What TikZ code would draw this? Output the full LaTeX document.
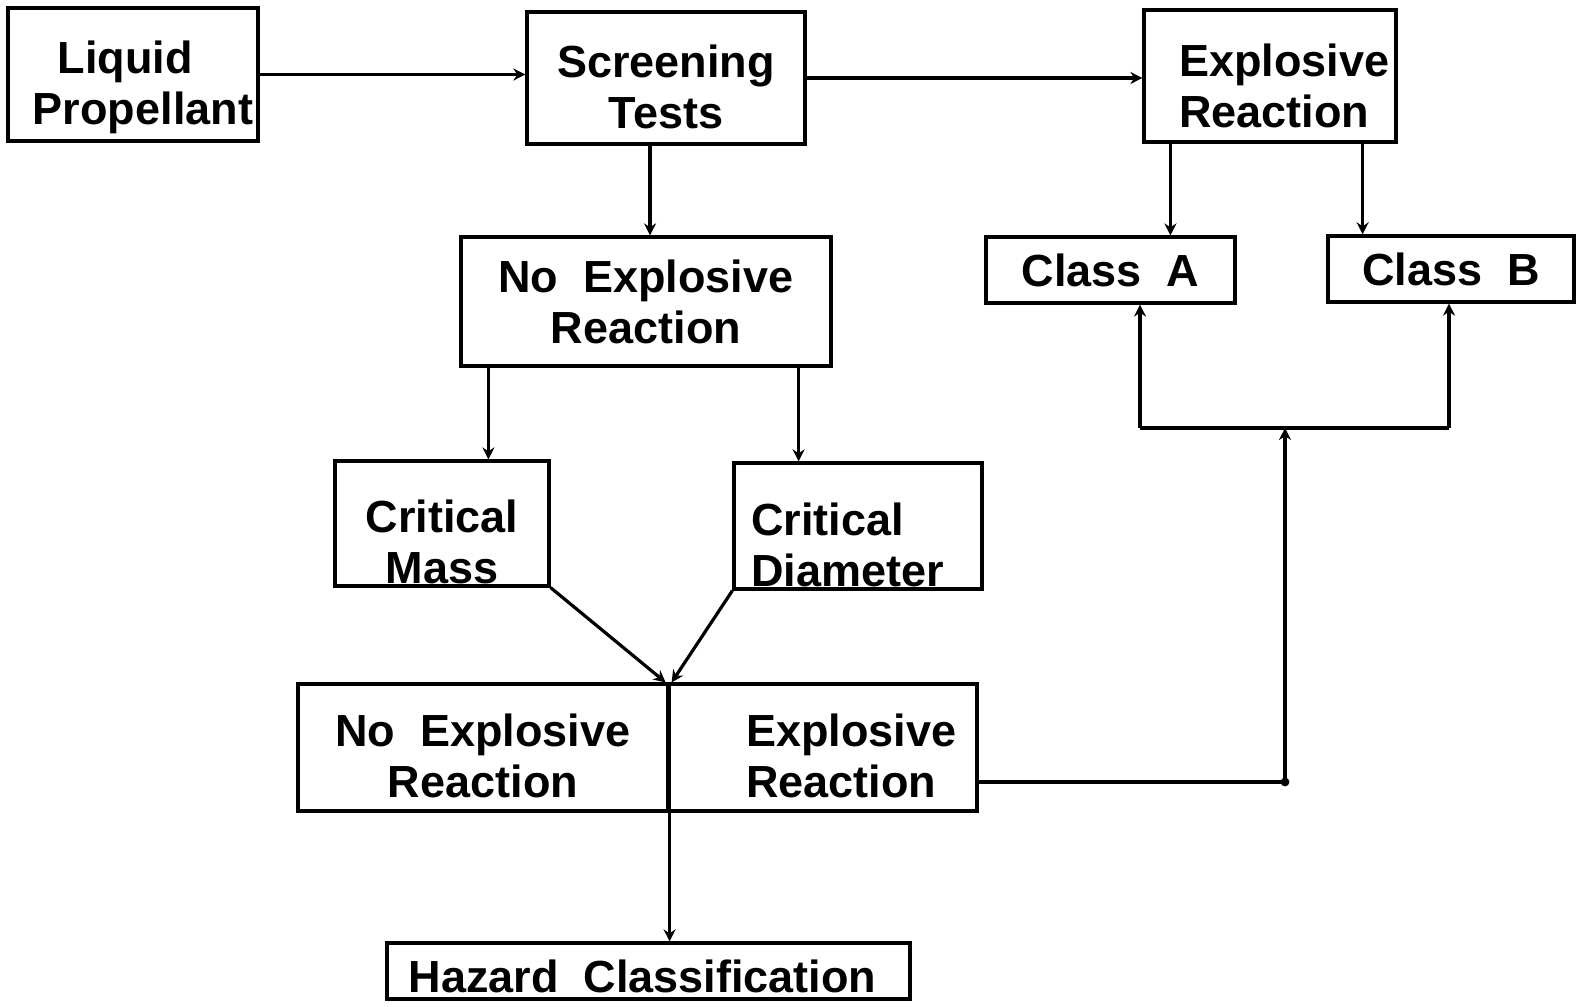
\documentclass[tikz,border=0pt]{standalone}
\usepackage{fontspec}
\setmainfont{Liberation Sans}
\usetikzlibrary{arrows.meta}
% strut that lowers a text block inside its box
\newcommand{\lift}[1]{\rule{0pt}{#1}}
\begin{document}
\begin{tikzpicture}[x=0.5pt,y=-0.5pt,
  box/.style={draw, line width=1.6pt, rectangle, inner xsep=2pt, inner ysep=0pt,
    font=\fontsize{22.5pt}{25.5pt}\selectfont\bfseries},
  link/.style={line width=1.6pt},
  arrow/.style={link, -{Stealth[length=6pt,width=6pt]}}]
\useasboundingbox (0,0) rectangle (1577,1006);

% top row
\node[box, minimum width=125pt, minimum height=66.5pt, align=center] (lp) at (133,74.5)
  {\lift{29.5pt}\hspace*{10pt}Liquid\hspace*{18pt}\\\hspace*{10pt}Propellant};
\node[box, minimum width=139pt, minimum height=66pt, align=center] (st) at (666,78)
  {\lift{25.5pt}Screening\\Tests};
\node[box, minimum width=126pt, minimum height=66pt, text width=91pt, align=left] (er) at (1270,76)
  {\lift{26.5pt}Explosive\\Reaction};

% second row
\node[box, minimum width=185pt, minimum height=64.5pt, align=center] (ne) at (646,301.5)
  {No\ \ Explosive\\Reaction};
\node[box, minimum width=124.5pt, minimum height=33pt] (ca) at (1110.5,270) {Class\ \ A};
\node[box, minimum width=123pt, minimum height=33pt] (cb) at (1451,269) {Class\ \ B};

% critical tests
\node[box, minimum width=107pt, minimum height=62.5pt, align=center] (cm) at (442,523.5)
  {\lift{35pt}Critical\\Mass};
\node[box, minimum width=124pt, minimum height=63pt, text width=107pt, align=left] (cd) at (858,526)
  {\lift{35pt}Critical\\Diameter};

% outcome box, split in two halves
\node[box, minimum width=185pt, minimum height=63.5pt, align=center] (nl) at (483,747.5)
  {\lift{24.5pt}No\ \ Explosive\\Reaction};
\node[box, minimum width=154.5pt, minimum height=63.5pt, text width=76.5pt, align=left] (nr) at (822.5,747.5)
  {\lift{24.5pt}Explosive\\Reaction};

% final result
\node[box, minimum width=261.5pt, minimum height=28pt] (hz) at (648.5,971)
  {\lift{21.5pt}Hazard\ \ Classification\hspace*{6pt}};

% attachment points of the connectors
\coordinate (s1) at ([xshift=-8pt]st.south);
\coordinate (n1) at ([xshift=14.5pt]ne.south west);
\coordinate (n2) at ([xshift=-17pt]ne.south east);
\coordinate (e1) at ([xshift=14pt]er.south west);
\coordinate (e2) at ([xshift=-17.5pt]er.south east);
\coordinate (ba) at (1140,428);
\coordinate (bb) at (1449,428);
\coordinate (j1) at (1285,782);

% connectors
\draw[arrow] (lp.east) -- (lp.east -| st.west);
\draw[arrow] (st.east) -- (st.east -| er.west);
\draw[arrow] (s1) -- (s1 |- ne.north);
\draw[arrow] (n1) -- (n1 |- cm.north);
\draw[arrow] (n2) -- (n2 |- cd.north);
\draw[arrow] (e1) -- (e1 |- ca.north);
\draw[arrow] (e2) -- (e2 |- cb.north);
\draw[arrow] (cm.south east) -- ([xshift=-2pt]nl.north east);
\draw[arrow] (cd.south west) -- ([xshift=1pt]nl.north east);
\draw[arrow] (nl.north east) -- (nl.north east |- hz.north);
\draw[link] (nr.east |- j1) -- (j1);
\draw[arrow] (j1) -- (j1 |- ba);
\draw[link] (ba) -- (bb);
\draw[arrow] (ba) -- (ba |- ca.south);
\draw[arrow] (bb) -- (bb |- cb.south);
\fill (j1) circle (2.2pt);
\end{tikzpicture}
\end{document}
